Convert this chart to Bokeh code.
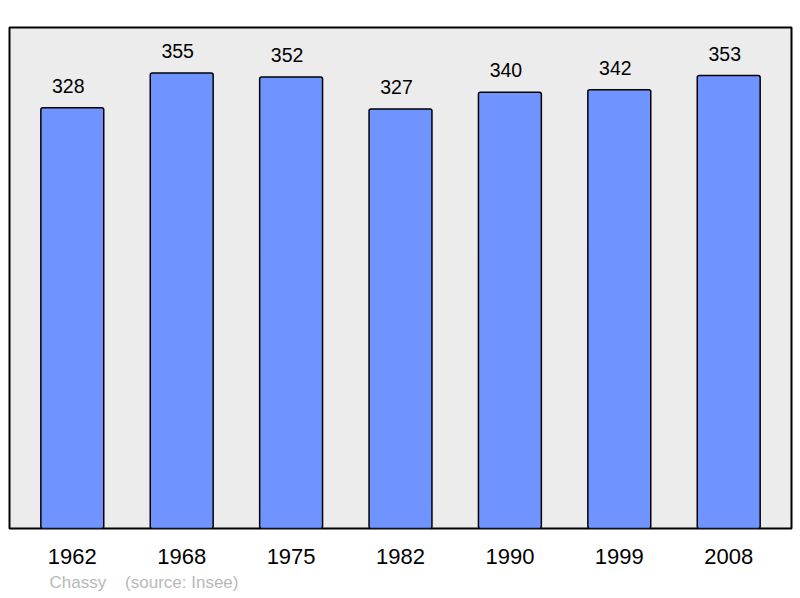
from bokeh.plotting import figure
from bokeh.models import FactorRange, Range1d, Title, ColumnDataSource
from bokeh.core.properties import value
from bokeh.embed import file_html
from bokeh.resources import INLINE

years = ["1962", "1968", "1975", "1982", "1990", "1999", "2008"]
population = [328, 355, 352, 327, 340, 342, 353]
commune = "Chassy"
source_note = "(source: Insee)"

src = ColumnDataSource(dict(x=years, top=population, label=[str(v) for v in population]))

p = figure(width=800, height=598, output_backend="svg", toolbar_location=None,
           x_range=FactorRange(*years, range_padding=0.074, range_padding_units="absolute"),
           y_range=Range1d(0, 390.5),
           min_border_left=9, min_border_right=9, min_border_top=27, min_border_bottom=70)

p.background_fill_color = "#ececec"
p.border_fill_color = "white"
p.outline_line_color = "black"
p.outline_line_width = 2
p.xgrid.visible = False
p.ygrid.visible = False
p.yaxis.visible = False

p.vbar(x="x", top="top", width=0.575, source=src, fill_color="#7094ff",
       line_color="black", line_width=1.5, border_radius=2)

p.text(x="x", y="top", text="label", source=src, text_align="center",
       text_baseline="alphabetic", x_offset=-4, y_offset=-22,
       text_font=value("Liberation Sans"),
       text_font_size="19.5px", text_color="black")

ax = p.xaxis[0]
ax.axis_line_color = None
ax.major_tick_line_color = None
ax.minor_tick_line_color = None
ax.major_label_text_font = "Liberation Sans"
ax.major_label_text_font_size = "22px"
ax.major_label_text_color = "black"
ax.major_label_standoff = 14

note = commune + "\u00a0" * 4 + source_note
p.add_layout(Title(text=note, align="left", offset=40, standoff=9,
                   text_font="Liberation Sans", text_font_size="17px",
                   text_font_style="normal", text_color="#b8b8b8"), "below")

open("out.html", "w").write(file_html(p, INLINE))
